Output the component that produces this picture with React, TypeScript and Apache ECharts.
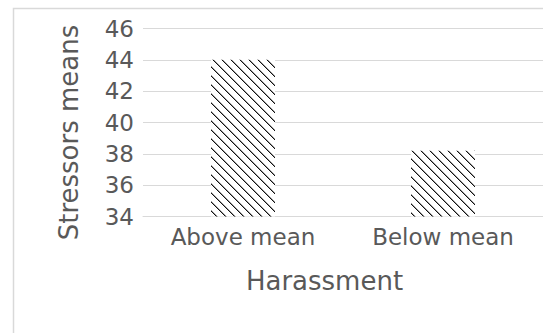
import React, { useEffect, useRef } from "react";
import * as echarts from "echarts";

const categories = ["Above mean", "Below mean"];
const stressorMeans = [44.0, 38.2];
const yMin = 34;
const yMax = 46;
const yStep = 2;
const xTitle = "Harassment";
const yTitle = "Stressors means";

function makeHatch(): HTMLCanvasElement {
  const p = 9;
  const c = document.createElement("canvas");
  c.width = p;
  c.height = p;
  const ctx = c.getContext("2d")!;
  ctx.fillStyle = "#ffffff";
  ctx.fillRect(0, 0, p, p);
  for (let i = 0; i < p; i++) {
    ctx.fillStyle = "#9a9a9a";
    ctx.fillRect((i + 1) % p, i, 1, 1);
    ctx.fillStyle = "#111111";
    ctx.fillRect(i, i, 1, 1);
  }
  return c;
}

export default function App() {
  const ref = useRef<HTMLDivElement>(null);
  useEffect(() => {
    if (!ref.current) return;
    const chart = echarts.init(ref.current, undefined, { renderer: "svg" });
    const hatch = makeHatch();
    const font = "DejaVu Sans";
    chart.setOption({
      animation: false,
      backgroundColor: "#ffffff",
      graphic: [
        {
          type: "rect",
          shape: { x: 13.5, y: 8.5, width: 600, height: 400 },
          style: { fill: "none", stroke: "#d9d9d9", lineWidth: 1.5 },
          silent: true,
        },
      ],
      grid: { left: 143, top: 28.5, width: 402, height: 188, containLabel: false },
      xAxis: {
        type: "category",
        data: categories,
        name: xTitle,
        nameLocation: "middle",
        nameGap: 51,
        nameTextStyle: { color: "#595959", fontSize: 26, fontFamily: font, padding: [0, 37, 0, 0] },
        axisLine: { show: true, lineStyle: { color: "#d9d9d9", width: 1 } },
        axisTick: { show: false },
        axisLabel: { color: "#595959", fontSize: 23, fontFamily: font, margin: 9 },
      },
      yAxis: {
        type: "value",
        min: yMin,
        max: yMax,
        interval: yStep,
        name: yTitle,
        nameLocation: "middle",
        nameGap: 61,
        nameTextStyle: { color: "#595959", fontSize: 26, fontFamily: font, padding: [0, 20, 0, 0] },
        axisLine: { show: false },
        axisTick: { show: false },
        axisLabel: { color: "#595959", fontSize: 23, fontFamily: font, margin: 9 },
        splitLine: { lineStyle: { color: "#d9d9d9", width: 1 } },
      },
      series: [
        {
          type: "bar",
          data: stressorMeans,
          barWidth: 64,
          itemStyle: {
            color: { image: hatch, repeat: "repeat", imageWidth: 9, imageHeight: 9 } as any,
          },
        },
      ],
    });
    return () => chart.dispose();
  }, []);
  return (
    <div
      ref={ref}
      style={{ position: "fixed", left: 0, top: 0, width: 543, height: 333, background: "#fff" }}
    />
  );
}
